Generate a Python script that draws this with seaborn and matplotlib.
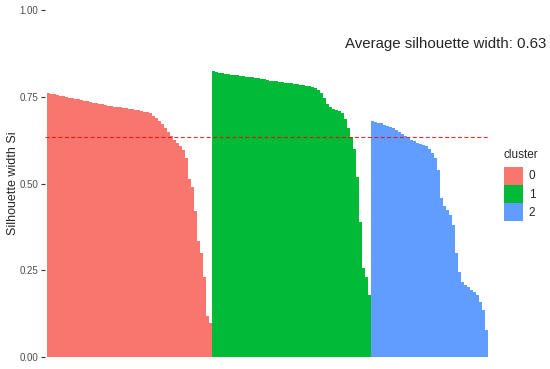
import numpy as np
import pandas as pd
import matplotlib
matplotlib.use("Agg")
import matplotlib.pyplot as plt
import seaborn as sns

# silhouette widths per cluster, sorted descending
sil_cluster0 = [0.761, 0.759, 0.757, 0.755, 0.753, 0.751, 0.749, 0.747, 0.746, 0.744,
                0.743, 0.741, 0.739, 0.737, 0.735, 0.733, 0.731, 0.730, 0.728, 0.726,
                0.725, 0.724, 0.722, 0.721, 0.720, 0.718, 0.717, 0.715, 0.714, 0.712,
                0.711, 0.709, 0.707, 0.705, 0.702, 0.696, 0.689, 0.680, 0.671, 0.661,
                0.649, 0.637, 0.626, 0.618, 0.609, 0.597, 0.575, 0.514, 0.490, 0.420,
                0.335, 0.300, 0.230, 0.120, 0.100]
sil_cluster1 = [0.823, 0.822, 0.820, 0.819, 0.817, 0.816, 0.814, 0.813, 0.812, 0.811,
                0.809, 0.808, 0.807, 0.806, 0.804, 0.803, 0.802, 0.800, 0.799, 0.797,
                0.796, 0.795, 0.794, 0.792, 0.791, 0.790, 0.789, 0.787, 0.786, 0.785,
                0.783, 0.782, 0.780, 0.778, 0.775, 0.770, 0.760, 0.746, 0.730, 0.721,
                0.715, 0.712, 0.709, 0.702, 0.687, 0.660, 0.634, 0.600, 0.520, 0.390,
                0.258, 0.230, 0.180]
sil_cluster2 = [0.680, 0.678, 0.676, 0.674, 0.670, 0.667, 0.664, 0.660, 0.655, 0.650,
                0.644, 0.638, 0.632, 0.626, 0.622, 0.618, 0.615, 0.611, 0.607, 0.600,
                0.589, 0.573, 0.540, 0.460, 0.435, 0.424, 0.410, 0.380, 0.300, 0.245,
                0.218, 0.208, 0.202, 0.195, 0.188, 0.178, 0.160, 0.135, 0.080]
cluster_labels = ["0", "1", "2"]
cluster_colors = ["#F8766D", "#00BA38", "#619CFF"]
avg_width = 0.634

# --- tabela longa para o seaborn ---
sil_all = [sil_cluster0, sil_cluster1, sil_cluster2]
df = pd.DataFrame({
    "sil_width": np.concatenate(sil_all),
    "cluster": np.repeat(cluster_labels, [len(s) for s in sil_all]),
})
df["order"] = np.arange(len(df)).astype(str)
n = len(df)

sns.set_theme(style="white")
plt.rcParams["font.family"] = ["Liberation Sans", "DejaVu Sans"]

fig = plt.figure(figsize=(5.5, 3.69), dpi=100)
ax = fig.add_axes([45 / 550, (369 - 357.3) / 369, (488.5 - 45) / 550, (357.3 - 10) / 369])

sns.barplot(data=df, x="order", y="sil_width", hue="cluster", hue_order=cluster_labels,
            palette=cluster_colors, dodge=False, width=1.0, linewidth=0,
            errorbar=None, saturation=1, ax=ax)
# sem antialias, para não aparecerem frestas entre as barras
for p in ax.patches:
    p.set_antialiased(False)

ax.axhline(avg_width, color="#FF0000", alpha=0.85, linestyle=(0, (3.6, 2.2)), lw=0.8)

ax.set_xlim(-1.1, n - 0.4)
ax.set_ylim(0, 1)
ax.set_xticks([])
ax.set_yticks([0, 0.25, 0.5, 0.75, 1.0])
ax.set_yticklabels(["0.00", "0.25", "0.50", "0.75", "1.00"])
ax.tick_params(axis="y", length=3, width=0.8, color="#333333", labelsize=7,
               labelcolor="#4d4d4d", pad=2, left=True)
for s in ax.spines.values():
    s.set_visible(False)
ax.set_xlabel("")
ax.set_ylabel("Silhouette width Si", fontsize=9)
ax.yaxis.set_label_coords(-0.058, 0.502)

fig.text(0.993, 1 - 44 / 369, f"Average silhouette width: {avg_width:.2f}",
         ha="right", va="center", fontsize=10.8)

handles, labels = ax.get_legend_handles_labels()
ax.get_legend().remove()
leg = fig.legend(handles, labels, title="cluster", loc="upper left",
                 bbox_to_anchor=(504 / 550, 1 - 149 / 369), frameon=False,
                 fontsize=8.5, title_fontsize=8.5, handlelength=1.65, handleheight=2.0,
                 labelspacing=0.0, handletextpad=0.45, borderaxespad=0, borderpad=0)
leg._legend_box.align = "left"
leg._legend_box.sep = 4

fig.savefig("out.png", dpi=100)
